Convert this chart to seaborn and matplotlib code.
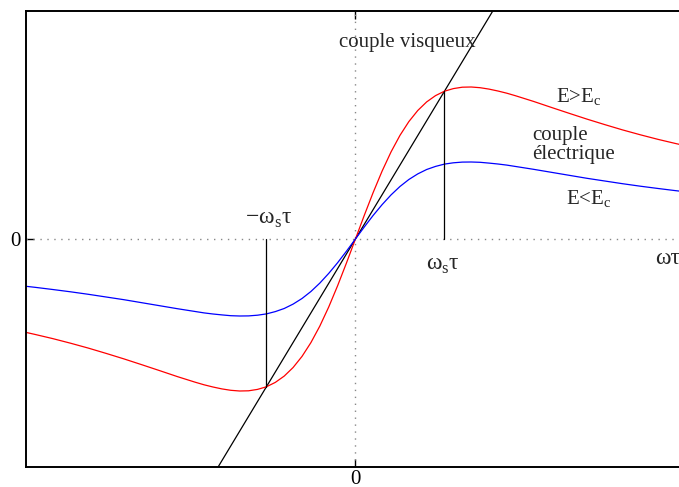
import numpy as np
import pandas as pd
import matplotlib
matplotlib.use("Agg")
import matplotlib.pyplot as plt
import seaborn as sns

# omega*tau, in units of omega_s*tau (denser near the origin)
x_pos = [0.0, 0.1, 0.2, 0.3, 0.4, 0.5, 0.6, 0.7, 0.8, 0.9,
         1.0, 1.1, 1.2, 1.3, 1.4, 1.5, 1.6, 1.7, 1.8, 1.9,
         2.0, 2.2, 2.4, 2.6, 2.8, 3.0, 3.2, 3.4, 3.6, 3.8]

# couple electrique, E > Ec (rouge), branche positive
red_pos = [0.0, 0.238, 0.467, 0.680, 0.871, 1.036, 1.174, 1.285, 1.371, 1.434,
           1.478, 1.504, 1.518, 1.520, 1.513, 1.499, 1.480, 1.458, 1.432, 1.404,
           1.376, 1.316, 1.257, 1.199, 1.144, 1.091, 1.042, 0.996, 0.954, 0.914]

# couple electrique, E < Ec (bleu), branche positive
blue_pos = [0.0, 0.121, 0.237, 0.344, 0.441, 0.525, 0.595, 0.651, 0.695, 0.726,
            0.749, 0.762, 0.769, 0.770, 0.767, 0.759, 0.750, 0.739, 0.725, 0.711,
            0.697, 0.667, 0.637, 0.607, 0.580, 0.553, 0.528, 0.505, 0.483, 0.463]

# couple visqueux (droite)
visc_x = [-2.0, 2.0]
visc_y = [-2.956, 2.956]

# points de fonctionnement +/- omega_s tau
ws_x = [-1.0, 1.0]
ws_y = [-1.478, 1.478]

# the curves are odd: negative branch mirrors the positive one
x_all = [-v for v in x_pos[:0:-1]] + x_pos
red_all = [-v for v in red_pos[:0:-1]] + red_pos
blue_all = [-v for v in blue_pos[:0:-1]] + blue_pos

df = pd.DataFrame({
    "x": x_all * 2,
    "couple": red_all + blue_all,
    "E": ["E>Ec"] * len(x_all) + ["E<Ec"] * len(x_all),
})

sns.set_style("white")
plt.rcParams["font.family"] = ["Liberation Serif", "DejaVu Serif"]
plt.rcParams["mathtext.fontset"] = "custom"
plt.rcParams["mathtext.rm"] = "Liberation Serif"

fig = plt.figure(figsize=(6.79, 4.87), dpi=100)
# axes run past the right edge of the picture, as in the original
ax = fig.add_axes([26 / 679, 20 / 487, 674 / 679, 456 / 487])

ax.axhline(0, color="#888888", ls=(0, (1, 4)), lw=1.0, zorder=1)
ax.axvline(0, color="#888888", ls=(0, (1, 4)), lw=1.0, zorder=1)

sns.lineplot(x=visc_x, y=visc_y, color="black", lw=0.9, ax=ax, sort=False, estimator=None)
sns.lineplot(data=df, x="x", y="couple", hue="E", palette={"E>Ec": "red", "E<Ec": "blue"},
             lw=0.9, ax=ax, sort=False, estimator=None, legend=False)

for xs, ys in zip(ws_x, ws_y):
    ax.plot([xs, xs], [0, ys], color="black", lw=0.9)

ax.set_xlim(-3.7, 3.87)
ax.set_ylim(-2.28, 2.28)
ax.set_xlabel("")
ax.set_ylabel("")

ax.set_xticks([0])
ax.set_xticklabels(["0"])
ax.set_yticks([0])
ax.set_yticklabels(["0"])
ax.tick_params(direction="in", length=6, width=1, labelsize=15, colors="black",
               top=True, right=True, bottom=True, left=True, pad=4)
ax.tick_params(axis="x", pad=2)
for s in ax.spines.values():
    s.set_visible(True)
    s.set_color("black")
    s.set_linewidth(1.4)

fs = 15
ax.text(0.58, 1.96, "couple visqueux", fontsize=fs, ha="center", va="center")
ax.text(2.51, 1.42, r"E>E$_\mathrm{c}$", fontsize=fs, ha="center", va="center")
ax.text(1.99, 0.94, "couple\nélectrique", fontsize=fs, ha="left", va="center", linespacing=1.0)
ax.text(2.62, 0.40, r"E<E$_\mathrm{c}$", fontsize=fs, ha="center", va="center")
ax.text(-0.98, 0.20, r"−ω$_\mathrm{s}$τ", fontsize=17, ha="center", va="center")
ax.text(0.98, -0.26, r"ω$_\mathrm{s}$τ", fontsize=17, ha="center", va="center")
ax.text(3.37, -0.2, "ωτ", fontsize=17, ha="left", va="center")

fig.savefig("out.png", dpi=100)
